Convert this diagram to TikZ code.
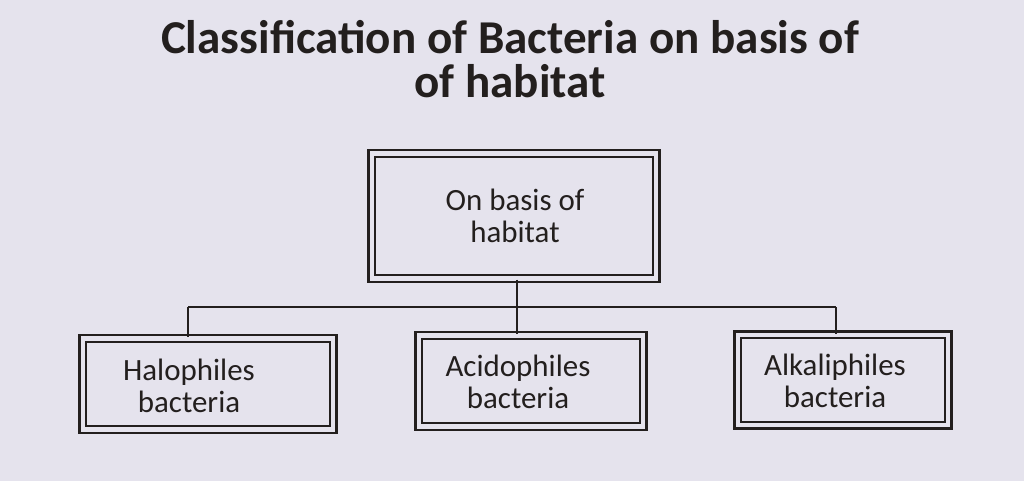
\documentclass[tikz,border=0pt]{standalone}
\usepackage{fontspec}
\setmainfont{Carlito}
\definecolor{paper}{RGB}{229,227,237}
\definecolor{ink}{RGB}{35,31,30}

\begin{document}
\begin{tikzpicture}[x=0.025cm,y=-0.025cm,
	box/.style={draw=ink, double=paper, line width=1.5pt, double distance=3.4pt, inner sep=0pt},
	boxtext/.style={align=center, text=ink, font=\fontsize{22}{23}\selectfont},
	link/.style={draw=ink, line width=1pt}]

	\fill[paper] (0,0) rectangle (1024,481);
	\useasboundingbox (0,0) rectangle (1024,481);

	\node[text=ink, align=center, font=\fontsize{33.5}{31}\selectfont\bfseries] (title) at (510,59)
		{Classification of Bacteria on basis of\\of habitat};

	\node[box, minimum width=7.1cm, minimum height=3.125cm] (top) at (514,216) {};
	\node[boxtext] (topText) at (515,216) {On basis of\\habitat};

	\node[box, minimum width=6.25cm, minimum height=2.275cm] (halo) at (208,384) {};
	\node[boxtext] (haloText) at (189,386) {Halophiles\\bacteria};
	\node[box, minimum width=5.6cm, minimum height=2.275cm] (acido) at (531,381) {};
	\node[boxtext] (acidoText) at (518,382) {Acidophiles\\bacteria};
	\node[box, minimum width=5.25cm, minimum height=2.25cm] (alkali) at (843,380) {};
	\node[boxtext] (alkaliText) at (835,381) {Alkaliphiles\\bacteria};

	\coordinate (barL) at (188,307);
	\coordinate (barM) at (517,307);
	\coordinate (barR) at (836,307);

	\draw[link] (top.south -| barM) -- (barM);
	\draw[link] (barL) -- (barR);
	\draw[link] (barL) -- (barL |- halo.north);
	\draw[link] (barM) -- (barM |- acido.north);
	\draw[link] (barR) -- (barR |- alkali.north);

\end{tikzpicture}
\end{document}
